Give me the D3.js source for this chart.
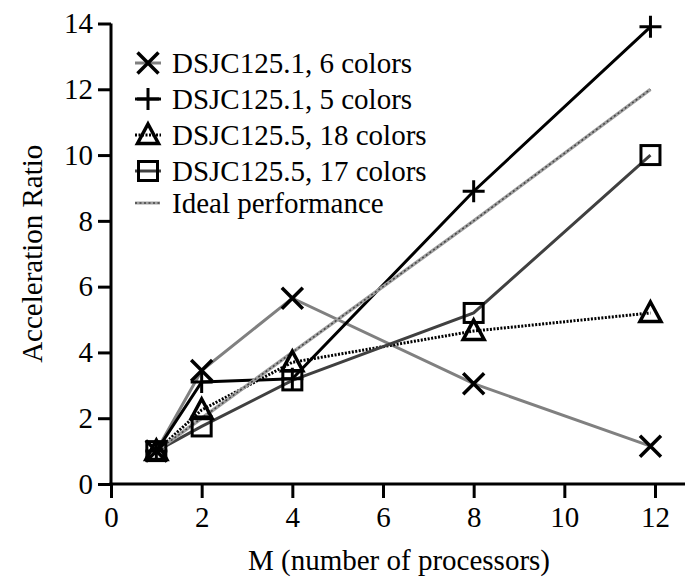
<!DOCTYPE html>
<html>
<head>
<meta charset="utf-8">
<script src="https://cdn.jsdelivr.net/npm/d3@7"></script>
<style>
  body { margin: 0; background: #fff; }
  svg text { font-family: "Liberation Serif", "Times New Roman", serif; }
</style>
</head>
<body>
<div id="chart_div"></div>
<script>
// data
var processors = [1, 2, 4, 8, 11.9];
var dsjc1_6 = [1.0, 3.45, 5.65, 3.05, 1.15];
var dsjc1_5 = [1.0, 3.1, 3.2, 8.9, 13.9];
var dsjc5_18 = [1.0, 2.25, 3.7, 4.65, 5.2];
var dsjc5_17 = [1.0, 1.75, 3.15, 5.2, 10.0];
var ideal = [1, 2, 4, 8, 12];
var seriesNames = [
  "DSJC125.1, 6 colors",
  "DSJC125.1, 5 colors",
  "DSJC125.5, 18 colors",
  "DSJC125.5, 17 colors",
  "Ideal performance"
];
var xTicks = [0, 2, 4, 6, 8, 10, 12];
var yTicks = [0, 2, 4, 6, 8, 10, 12, 14];

var W = 685, H = 582;
var FONT = "Liberation Serif";

var svg = d3.select("#chart_div")
  .append("svg")
  .attr("width", W)
  .attr("height", H)
  .attr("font-family", FONT);

var x = d3.scaleLinear().domain([0, 12]).range([111, 655]);
var y = d3.scaleLinear().domain([0, 14]).range([484, 23.5]);

// axes
var yAxis = svg.append("g")
  .attr("transform", "translate(" + x(0) + ",0)")
  .call(d3.axisLeft(y).tickValues(yTicks).tickSize(13).tickSizeOuter(0).tickPadding(5));
yAxis.attr("font-family", FONT);
yAxis.select(".domain").remove();
yAxis.selectAll("line").attr("stroke", "#000").attr("stroke-width", 3);
yAxis.selectAll("text").attr("font-size", 29).attr("fill", "#000");

var xAxis = svg.append("g")
  .attr("transform", "translate(0," + y(0) + ")")
  .call(d3.axisBottom(x).tickValues(xTicks).tickSize(14).tickSizeOuter(0).tickPadding(8));
xAxis.attr("font-family", FONT);
xAxis.select(".domain").remove();
xAxis.selectAll("line").attr("stroke", "#000").attr("stroke-width", 3);
xAxis.selectAll("text").attr("font-size", 29).attr("fill", "#000");

svg.append("line")
  .attr("x1", x(0)).attr("x2", x(0))
  .attr("y1", y(0)).attr("y2", y(14))
  .attr("stroke", "#000").attr("stroke-width", 3);
svg.append("line")
  .attr("x1", x(0) - 1.5).attr("x2", W)
  .attr("y1", y(0)).attr("y2", y(0))
  .attr("stroke", "#000").attr("stroke-width", 3);

// axis titles
svg.append("text")
  .attr("x", 399)
  .attr("y", 570)
  .attr("text-anchor", "middle")
  .attr("font-size", 29)
  .text("M (number of processors)");

svg.append("text")
  .attr("transform", "translate(42," + y(7) + ") rotate(-90)")
  .attr("text-anchor", "middle")
  .attr("font-size", 29)
  .text("Acceleration Ratio");

// marker shapes
function drawMarker(g, type, cx, cy) {
  var s = 10;
  if (type === "x") {
    s = 10.5;
    g.append("path")
      .attr("d", "M" + (cx - s) + "," + (cy - s) + "L" + (cx + s) + "," + (cy + s) +
        "M" + (cx - s) + "," + (cy + s) + "L" + (cx + s) + "," + (cy - s))
      .attr("stroke", "#000").attr("stroke-width", 3.5).attr("fill", "none");
  } else if (type === "plus") {
    g.append("path")
      .attr("d", "M" + (cx - s - 1) + "," + cy + "L" + (cx + s + 1) + "," + cy +
        "M" + cx + "," + (cy - s - 1) + "L" + cx + "," + (cy + s + 1))
      .attr("stroke", "#000").attr("stroke-width", 3).attr("fill", "none");
  } else if (type === "tri") {
    g.append("path")
      .attr("d", "M" + cx + "," + (cy - s - 1) + "L" + (cx + s + 0.5) + "," + (cy + 8.5) +
        "L" + (cx - s - 0.5) + "," + (cy + 8.5) + "Z")
      .attr("stroke", "#000").attr("stroke-width", 3.5).attr("fill", "none");
  } else if (type === "sq") {
    g.append("rect")
      .attr("x", cx - 9.5).attr("y", cy - 9.5)
      .attr("width", 19).attr("height", 19)
      .attr("stroke", "#000").attr("stroke-width", 3).attr("fill", "none");
  }
}

var series = [
  { name: seriesNames[0], values: dsjc1_6, color: "#808080", dash: null, marker: "x" },
  { name: seriesNames[1], values: dsjc1_5, color: "#000", dash: null, marker: "plus" },
  { name: seriesNames[2], values: dsjc5_18, color: "#000", dash: "2,1.5", marker: "tri" },
  { name: seriesNames[3], values: dsjc5_17, color: "#404040", dash: null, marker: "sq" }
];

var line = d3.line()
  .x(function(d) { return x(d[0]); })
  .y(function(d) { return y(d[1]); });

function pts(vals) {
  return processors.map(function(p, i) { return [p, vals[i]]; });
}

// lines
series.forEach(function(s) {
  svg.append("path")
    .datum(pts(s.values))
    .attr("d", line)
    .attr("fill", "none")
    .attr("stroke", s.color)
    .attr("stroke-width", 3)
    .attr("stroke-dasharray", s.dash);
});

// ideal performance line (textured grey)
svg.append("path")
  .datum(pts(ideal))
  .attr("d", line)
  .attr("fill", "none")
  .attr("stroke", "#a0a0a0")
  .attr("stroke-width", 3.5);
svg.append("path")
  .datum(pts(ideal))
  .attr("d", line)
  .attr("fill", "none")
  .attr("stroke", "#444")
  .attr("stroke-width", 1.5)
  .attr("stroke-dasharray", "2,2.5");

// markers
var mg = svg.append("g");
series.forEach(function(s) {
  pts(s.values).forEach(function(d) {
    drawMarker(mg, s.marker, x(d[0]), y(d[1]));
  });
});

// legend
var legend = svg.append("g");
var rowY = [63, 99, 135, 171, 203];
series.forEach(function(s, i) {
  legend.append("line")
    .attr("x1", 135).attr("x2", 161)
    .attr("y1", rowY[i]).attr("y2", rowY[i])
    .attr("stroke", s.color).attr("stroke-width", 3)
    .attr("stroke-dasharray", s.dash);
  var lg = legend.append("g");
  drawMarker(lg, s.marker, 148, rowY[i]);
  legend.append("text")
    .attr("x", 172).attr("y", rowY[i])
    .attr("dy", "0.35em")
    .attr("font-size", 29)
    .text(s.name);
});
legend.append("line")
  .attr("x1", 135).attr("x2", 160)
  .attr("y1", rowY[4]).attr("y2", rowY[4])
  .attr("stroke", "#a0a0a0").attr("stroke-width", 3);
legend.append("line")
  .attr("x1", 135).attr("x2", 160)
  .attr("y1", rowY[4]).attr("y2", rowY[4])
  .attr("stroke", "#444").attr("stroke-width", 1.5)
  .attr("stroke-dasharray", "2,2.5");
legend.append("text")
  .attr("x", 172).attr("y", rowY[4])
  .attr("dy", "0.35em")
  .attr("font-size", 29)
  .text(seriesNames[4]);
</script>
</body>
</html>
